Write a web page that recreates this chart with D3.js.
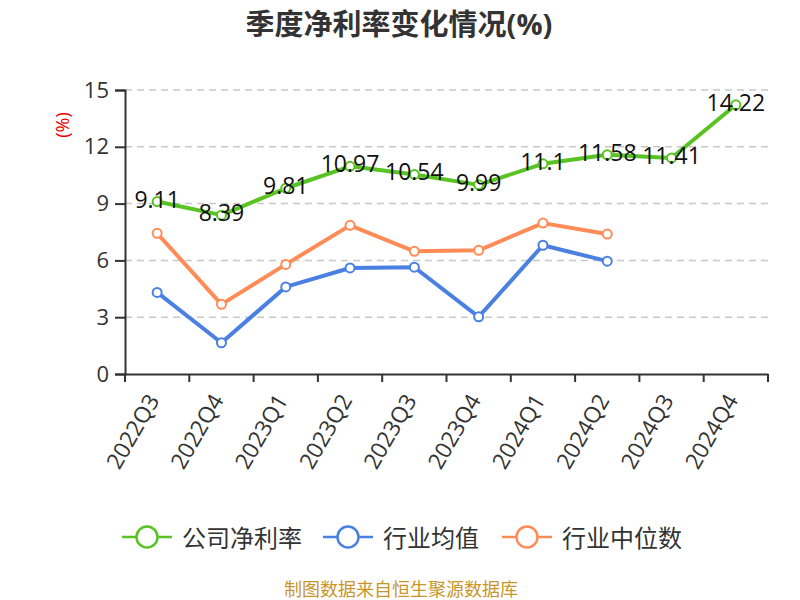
<!DOCTYPE html>
<html>
<head>
<meta charset="utf-8">
<script src="https://cdn.jsdelivr.net/npm/d3@7"></script>
<style>
  body { margin: 0; background: #fff; }
  text { font-family: "Open Sans", "Noto Sans CJK SC", sans-serif; }
</style>
</head>
<body>
<div id="chart"></div>
<script>
const quarters = ["2022Q3", "2022Q4", "2023Q1", "2023Q2", "2023Q3", "2023Q4", "2024Q1", "2024Q2", "2024Q3", "2024Q4"];
const companyRate = [9.11, 8.39, 9.81, 10.97, 10.54, 9.99, 11.1, 11.58, 11.41, 14.22];
const industryAvg = [4.31, 1.65, 4.6, 5.6, 5.64, 3.02, 6.8, 5.96];
const industryMedian = [7.43, 3.68, 5.79, 7.85, 6.48, 6.53, 7.97, 7.39];
const yTicks = [0, 3, 6, 9, 12, 15];

const seriesList = [
    { name: "公司净利率", values: companyRate, color: "#58c322", labels: true },
    { name: "行业均值", values: industryAvg, color: "#4a80e2", labels: false },
    { name: "行业中位数", values: industryMedian, color: "#ff8c57", labels: false }
];

const width = 800, height = 600;
const svg = d3.select("#chart").append("svg")
    .attr("width", width)
    .attr("height", height);

// titre
svg.append("text")
    .attr("x", 399).attr("y", 23)
    .attr("text-anchor", "middle")
    .attr("dominant-baseline", "central")
    .attr("font-size", 29).attr("font-weight", "bold")
    .attr("fill", "#333")
    .text("季度净利率变化情况(%)");

const x = d3.scaleBand().domain(quarters).range([125, 768]);
const y = d3.scaleLinear().domain([0, 15]).range([374, 90]);

// grille
svg.append("g").selectAll("line")
    .data(yTicks.filter(d => d > 0))
    .join("line")
    .attr("x1", 125).attr("x2", 768)
    .attr("y1", d => y(d)).attr("y2", d => y(d))
    .attr("stroke", "#c8c8c8")
    .attr("stroke-width", 1.5)
    .attr("stroke-dasharray", "7,5");

// axe y
const yAxis = svg.append("g")
    .attr("transform", "translate(125,0)")
    .call(d3.axisLeft(y).tickValues(yTicks).tickSize(10).tickPadding(6));
yAxis.select(".domain").attr("stroke", "#333").attr("stroke-width", 2);
yAxis.selectAll(".tick line").attr("stroke", "#333").attr("stroke-width", 2);
yAxis.selectAll(".tick text")
    .attr("font-size", 22).attr("fill", "#333")
    .attr("font-family", "'Open Sans', sans-serif");

// axe x
const xAxis = svg.append("g")
    .attr("transform", "translate(0,374)")
    .call(d3.axisBottom(x).tickSize(0).tickFormat(""));
xAxis.select(".domain").attr("stroke", "#333").attr("stroke-width", 2);

const bounds = quarters.map(q => x(q)).concat([x.range()[1]]);
svg.append("g").selectAll("line")
    .data(bounds)
    .join("line")
    .attr("x1", d => d).attr("x2", d => d)
    .attr("y1", 374).attr("y2", 382)
    .attr("stroke", "#333").attr("stroke-width", 2);

svg.append("g").selectAll("text")
    .data(quarters)
    .join("text")
    .attr("transform", d => "translate(" + (x(d) + x.bandwidth() / 2 + 3) + ",400) rotate(-60)")
    .attr("text-anchor", "end")
    .attr("font-size", 22.5).attr("fill", "#333")
    .text(d => d);

// libellé axe y
svg.append("text")
    .attr("transform", "translate(62,125) rotate(-90)")
    .attr("text-anchor", "middle")
    .attr("dominant-baseline", "central")
    .attr("font-size", 18).attr("fill", "#e00")
    .text("(%)");

const cx = i => x(quarters[i]) + x.bandwidth() / 2;
const line = d3.line().x((d, i) => cx(i)).y(d => y(d));

// dessiner les séries (orange et bleu d'abord, vert au-dessus)
[seriesList[2], seriesList[1], seriesList[0]].forEach(s => {
    svg.append("path")
        .attr("d", line(s.values))
        .attr("fill", "none")
        .attr("stroke", s.color)
        .attr("stroke-width", 4)
        .attr("stroke-linejoin", "round");
    svg.append("g").selectAll("circle")
        .data(s.values)
        .join("circle")
        .attr("cx", (d, i) => cx(i))
        .attr("cy", d => y(d))
        .attr("r", 4.5)
        .attr("fill", "#fff")
        .attr("stroke", s.color)
        .attr("stroke-width", 2);
    if (s.labels) {
        svg.append("g").selectAll("text")
            .data(s.values)
            .join("text")
            .attr("x", (d, i) => cx(i))
            .attr("y", d => y(d) - 3)
            .attr("text-anchor", "middle")
            .attr("dominant-baseline", "central")
            .attr("font-size", 23).attr("fill", "#111")
            .text(d => d);
    }
});

// légende
const legendX = [122, 323, 502];
seriesList.forEach((s, i) => {
    const g = svg.append("g").attr("transform", "translate(" + legendX[i] + ",537)");
    g.append("line")
        .attr("x1", 0).attr("x2", 50)
        .attr("stroke", s.color).attr("stroke-width", 2.5);
    g.append("circle")
        .attr("cx", 25).attr("r", 10.5)
        .attr("fill", "#fff")
        .attr("stroke", s.color).attr("stroke-width", 2.5);
    g.append("text")
        .attr("x", 60)
        .attr("dominant-baseline", "central")
        .attr("font-size", 24).attr("fill", "#333")
        .text(s.name);
});

// source
svg.append("text")
    .attr("x", 401).attr("y", 589)
    .attr("text-anchor", "middle")
    .attr("dominant-baseline", "central")
    .attr("font-size", 18).attr("fill", "#c8962a")
    .text("制图数据来自恒生聚源数据库");
</script>
</body>
</html>
